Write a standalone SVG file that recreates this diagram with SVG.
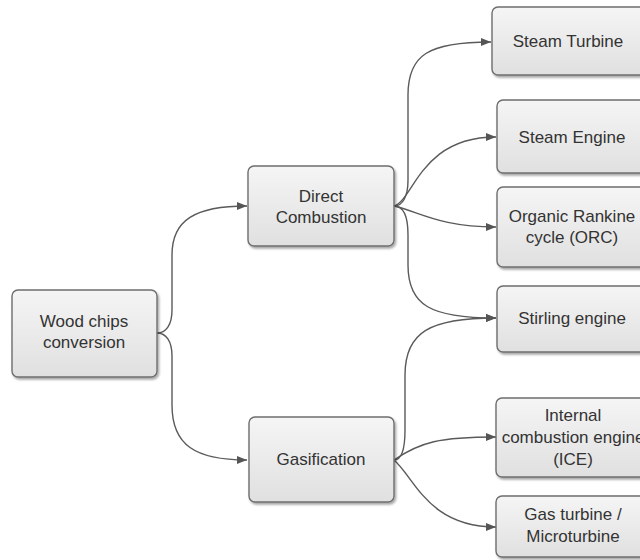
<svg xmlns="http://www.w3.org/2000/svg" width="640" height="560" viewBox="0 0 640 560">
<defs>
<linearGradient id="g" x1="0" y1="0" x2="0" y2="1">
<stop offset="0" stop-color="#f5f5f5"/>
<stop offset="1" stop-color="#e0e0e0"/>
</linearGradient>
<filter id="sh" x="-10%" y="-10%" width="130%" height="130%">
<feDropShadow dx="1.5" dy="2" stdDeviation="1.2" flood-color="#000" flood-opacity="0.35"/>
</filter>
<marker id="ar" viewBox="0 0 10 8" refX="10" refY="4" markerWidth="10" markerHeight="8" markerUnits="userSpaceOnUse" orient="auto">
<path d="M0,0 L10,4 L0,8 z" fill="#555"/>
</marker>
<style>
.box{fill:url(#g);stroke:#6e6e6e;stroke-width:1.4;filter:url(#sh)}
.t{font-family:"Liberation Sans",Arial,sans-serif;font-size:17px;fill:#333;text-anchor:middle}
.c{fill:none;stroke:#5a5a5a;stroke-width:1.4;marker-end:url(#ar)}
</style>
</defs>
<rect width="640" height="560" fill="#fff"/>
<g id="connectors">
<path class="c" d="M157,333 C166,333 172,325 172,310 L172,255 C172,220 195,206 247,206"/>
<path class="c" d="M157,333 C166,333 172,341 172,356 L172,405 C172,445 195,460 247,460"/>
<path class="c" d="M394,206 C403,206 408,196 408,180 L408,95 C408,55 428,42 491,42"/>
<path class="c" d="M394,206 C414,200 420,137 496,137"/>
<path class="c" d="M394,206 C420,212 440,227 496,227"/>
<path class="c" d="M394,206 C403,206 408,216 408,235 L408,265 C408,305 430,318 496,318"/>
<path class="c" d="M394,460 C401,460 405,450 405,430 L405,375 C405,332 430,318 496,318"/>
<path class="c" d="M394,460 C420,442 440,437 496,437"/>
<path class="c" d="M394,460 C415,478 428,527 496,527"/>
</g>
<g id="wood"><rect class="box" x="12" y="290" width="145" height="87" rx="6"/>
<text class="t" x="84" y="327">Wood chips</text><text class="t" x="84" y="348">conversion</text></g>
<g id="direct"><rect class="box" x="248" y="166" width="146" height="80" rx="6"/>
<text class="t" x="321" y="202">Direct</text><text class="t" x="321" y="223">Combustion</text></g>
<g id="gas"><rect class="box" x="249" y="417" width="145" height="85" rx="6"/>
<text class="t" x="321" y="465">Gasification</text></g>
<g id="steamturbine"><rect class="box" x="492" y="7" width="155" height="68" rx="6"/>
<text class="t" x="568" y="47">Steam Turbine</text></g>
<g id="steamengine"><rect class="box" x="497" y="100" width="150" height="73" rx="6"/>
<text class="t" x="572" y="143">Steam Engine</text></g>
<g id="orc"><rect class="box" x="497" y="187" width="150" height="80" rx="6"/>
<text class="t" x="572" y="222">Organic Rankine</text><text class="t" x="572" y="243">cycle (ORC)</text></g>
<g id="stirling"><rect class="box" x="497" y="286" width="150" height="66" rx="6"/>
<text class="t" x="572" y="324">Stirling engine</text></g>
<g id="ice"><rect class="box" x="496" y="398" width="151" height="79" rx="6"/>
<text class="t" x="573" y="421">Internal</text><text class="t" x="573" y="443">combustion engine</text><text class="t" x="573" y="465">(ICE)</text></g>
<g id="gasturbine"><rect class="box" x="496" y="496" width="151" height="61" rx="6"/>
<text class="t" x="573" y="520">Gas turbine /</text><text class="t" x="573" y="542">Microturbine</text></g>
</svg>
